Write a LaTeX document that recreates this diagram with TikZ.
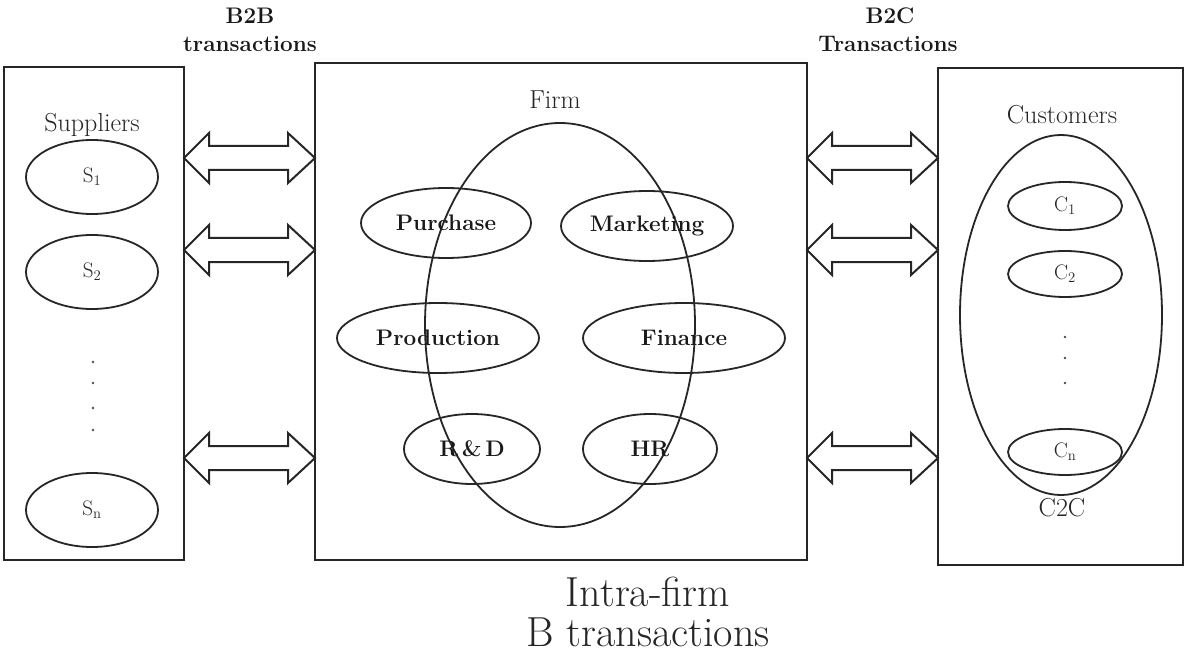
\documentclass[tikz,border=0pt]{standalone}
\usetikzlibrary{shapes.geometric,calc}
\tikzset{
  box/.style={draw=black!85, line width=2.6pt, inner sep=0pt, outer sep=0pt},
  ell/.style={ellipse, draw=black!85, line width=1.8pt, inner sep=0pt},
  big/.style={ellipse, draw=black!85, line width=1.8pt, inner sep=0pt},
  dbar/.style={draw=black!85, line width=2pt, line join=miter, fill=white},
  lab/.style={font=\fontsize{26}{30}\selectfont, text=black!85},
  blab/.style={font=\fontsize{22.5}{26}\selectfont\bfseries, text=black!90},
  tlab/.style={font=\fontsize{22.5}{26}\selectfont\bfseries, text=black!90},
  slab/.style={font=\fontsize{21}{25}\selectfont, text=black!85},
  dotn/.style={circle, fill=black!70, inner sep=0pt, minimum size=2.6pt},
}
\newcommand{\dbarrow}[2]{%
  \draw[dbar] (#1) -- ($(#1)+(25,-25)$) -- ($(#1)+(25,-12)$) -- ($(#2)+(-27,-12)$)
   -- ($(#2)+(-27,-25)$) -- (#2) -- ($(#2)+(-27,25)$) -- ($(#2)+(-27,12)$)
   -- ($(#1)+(25,12)$) -- ($(#1)+(25,25)$) -- cycle;}
\begin{document}
\begin{tikzpicture}[x=1pt,y=-1pt]
\useasboundingbox[fill=white] (0,0) rectangle (1186,655);
% boxes
\node[box, minimum width=180, minimum height=493] (sup) at (94,313.5) {};
\node[box, minimum width=492, minimum height=497] (firm) at (561,311.5) {};
\node[box, minimum width=245, minimum height=497] (cust) at (1060.5,316.5) {};
% top labels
\node[tlab] (b2b) at (250,16) {B2B};
\node[tlab] (b2bt) at (250,44) {transactions};
\node[tlab] (b2c) at (890,16) {B2C};
\node[tlab] (b2ct) at (888,44) {Transactions};
% suppliers
\node[lab] (suplab) at (92,125) {Suppliers};
\node[ell, minimum width=132, minimum height=74] (s1) at (92,177) {};
\node[slab] at (s1) {S\textsubscript{1}};
\node[ell, minimum width=132, minimum height=74] (s2) at (92,272) {};
\node[slab] at (s2) {S\textsubscript{2}};
\node[ell, minimum width=132, minimum height=74] (sn) at (92,510) {};
\node[slab] at (sn) {S\textsubscript{n}};
\foreach \yy/\nm in {362/d1,383/d2,408/d3,430/d4} \node[dotn] (\nm) at (93,\yy) {};
% firm
\node[lab] (firmlab) at (555,100) {Firm};
\node[big, minimum width=270, minimum height=404] (fe) at (560,325) {};
\node[ell, minimum width=170, minimum height=70] (pur) at (446,223) {};
\node[ell, minimum width=172, minimum height=70] (mar) at (647,226) {};
\node[ell, minimum width=202, minimum height=70] (pro) at (438,338) {};
\node[ell, minimum width=202, minimum height=70] (fin) at (684,338) {};
\node[ell, minimum width=136, minimum height=70] (rd) at (472,449) {};
\node[ell, minimum width=134, minimum height=70] (hr) at (650,449) {};
\node[blab] at (pur) {Purchase};
\node[blab] at (mar) {Marketing};
\node[blab] at (pro) {Production};
\node[blab] at (fin) {Finance};
\node[blab] at (rd) {R\,\&\,D};
\node[blab] at (hr) {HR};
% customers
\node[lab] (custlab) at (1062,115) {Customers};
\node[big, minimum width=202, minimum height=360] (ce) at (1061,315) {};
\node[ell, minimum width=114, minimum height=48] (c1) at (1065,206) {};
\node[slab] at (c1) {C\textsubscript{1}};
\node[ell, minimum width=114, minimum height=46] (c2) at (1065,274) {};
\node[slab] at (c2) {C\textsubscript{2}};
\node[ell, minimum width=114, minimum height=46] (cn) at (1065,452) {};
\node[slab] at (cn) {C\textsubscript{n}};
\foreach \yy/\nm in {337/e1,358/e2,383/e3} \node[dotn] (\nm) at (1065,\yy) {};
\node[lab] (c2c) at (1062,508) {C2C};
% arrows
\foreach \yy/\nm in {158/a,250/b,458/c}{
  \coordinate (L\nm1) at (sup.east |- 0,\yy);
  \coordinate (L\nm2) at (firm.west |- 0,\yy);
  \coordinate (R\nm1) at (firm.east |- 0,\yy);
  \coordinate (R\nm2) at (cust.west |- 0,\yy);
}
\dbarrow{La1}{La2}
\dbarrow{Lb1}{Lb2}
\dbarrow{Lc1}{Lc2}
\dbarrow{Ra1}{Ra2}
\dbarrow{Rb1}{Rb2}
\dbarrow{Rc1}{Rc2}
% bottom
\node[font=\fontsize{42}{48}\selectfont, text=black!85] (intra) at (648,592) {Intra-firm};
\node[font=\fontsize{42}{48}\selectfont, text=black!85] (btr) at (648,632) {B transactions};
\end{tikzpicture}
\end{document}
